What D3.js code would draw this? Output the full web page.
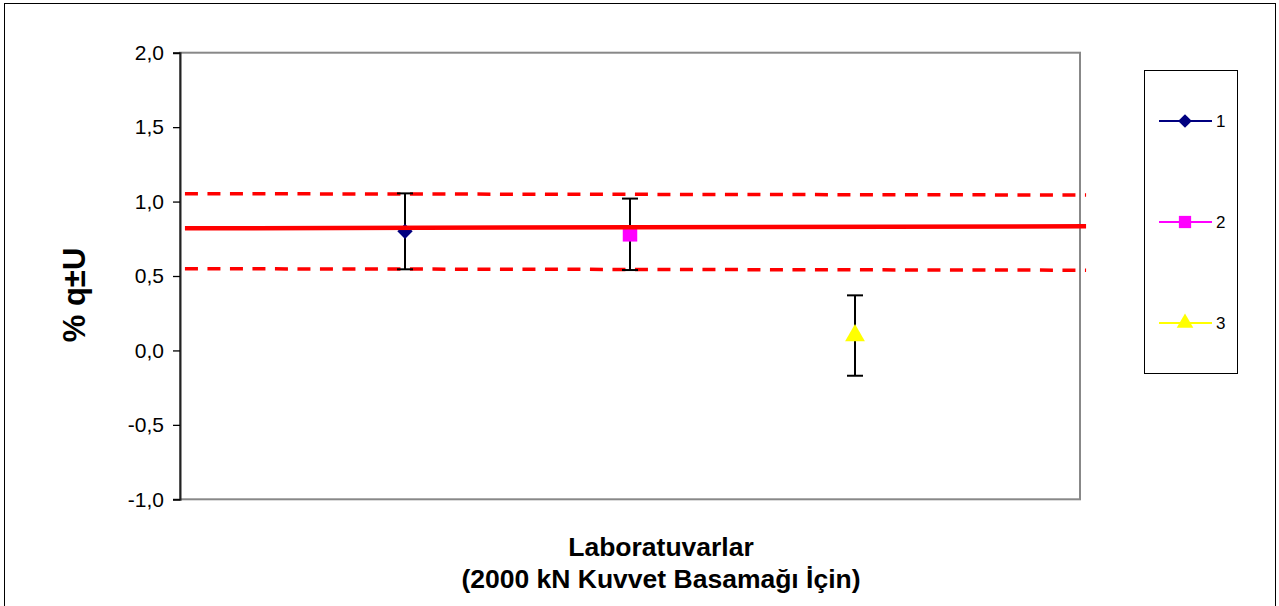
<!DOCTYPE html>
<html>
<head>
<meta charset="utf-8">
<script src="https://cdn.jsdelivr.net/npm/d3@7"></script>
<style>
  html, body { margin: 0; padding: 0; background: #fff; }
  svg { display: block; font-family: "Liberation Sans", Arial, sans-serif; }
</style>
</head>
<body>
<script>
// lab results (value and expanded uncertainty)
const labs = ["1", "2", "3"];
const labX = [1, 2, 3];
const values = [0.80, 0.78, 0.10];
const uncert = [0.255, 0.24, 0.27];
const colors = ["#000080", "#FF00FF", "#FFFF00"];
const markers = ["diamond", "square", "triangle"];

// reference value and its band (start / end of line)
const refX = [0.022, 4.027];
const refMean = [0.82, 0.834];
const refUpper = [1.053, 1.044];
const refLower = [0.549, 0.539];

const yTicks = [-1, -0.5, 0, 0.5, 1, 1.5, 2];

const width = 1279, height = 606;
const plot = {left: 180, right: 1080, top: 52.7, bottom: 499.3};

const svg = d3.select("body").append("svg")
    .attr("width", width)
    .attr("height", height);

// outer chart border
svg.append("rect")
    .attr("x", 4.5).attr("y", 3.5)
    .attr("width", 1271).attr("height", 610)
    .attr("fill", "none")
    .attr("stroke", "#000")
    .attr("stroke-width", 1);

const x = d3.scaleLinear().domain([0, 4]).range([plot.left, plot.right]);
const y = d3.scaleLinear().domain([-1, 2]).range([plot.bottom, plot.top]);

// plot area border (gray)
svg.append("rect")
    .attr("x", plot.left).attr("y", plot.top)
    .attr("width", plot.right - plot.left)
    .attr("height", plot.bottom - plot.top)
    .attr("fill", "none")
    .attr("stroke", "#888")
    .attr("stroke-width", 2);

// y axis
const fmt = d => d3.format(".1f")(d).replace(".", ",").replace("\u2212", "-");
const yAxis = svg.append("g")
    .attr("transform", `translate(${plot.left},0)`)
    .call(d3.axisLeft(y).tickValues(yTicks).tickSize(7).tickPadding(9).tickFormat(fmt));
yAxis.select(".domain").attr("stroke", "#222").attr("stroke-width", 2);
yAxis.selectAll(".tick line").attr("stroke", "#000").attr("stroke-width", 1.3);
yAxis.selectAll(".tick text")
    .attr("font-size", 21)
    .attr("fill", "#000")
    .attr("font-family", "Liberation Sans, Arial, sans-serif");

// reference band lines (dashed)
const line = d3.line().x(d => x(d[0])).y(d => y(d[1]));
[refUpper, refLower].forEach(arr => {
  svg.append("path")
      .datum(d3.zip(refX, arr))
      .attr("d", line)
      .attr("fill", "none")
      .attr("stroke", "#FF0000")
      .attr("stroke-width", 3.5)
      .attr("stroke-dasharray", "13,9.5");
});

// error bars
const eb = svg.append("g").selectAll("g")
    .data(labs.map((l, i) => ({x: labX[i], v: values[i], u: uncert[i]})))
    .join("g");
eb.append("line")
    .attr("x1", d => x(d.x)).attr("x2", d => x(d.x))
    .attr("y1", d => y(d.v + d.u)).attr("y2", d => y(d.v - d.u))
    .attr("stroke", "#000").attr("stroke-width", 2);
eb.selectAll("line.cap")
    .data(d => [d.v + d.u, d.v - d.u].map(v => ({x: d.x, v})))
    .join("line")
    .attr("class", "cap")
    .attr("x1", d => x(d.x) - 8).attr("x2", d => x(d.x) + 8)
    .attr("y1", d => y(d.v)).attr("y2", d => y(d.v))
    .attr("stroke", "#000").attr("stroke-width", 2);

// markers
const shapes = {
  diamond: d3.symbol().type(d3.symbolDiamond2).size(150),
  square: d3.symbol().type(d3.symbolSquare).size(210),
  triangle: d3.symbol().type(d3.symbolTriangle).size(170)
};
svg.append("g").selectAll("path")
    .data(labs.map((l, i) => i))
    .join("path")
    .attr("transform", i => `translate(${x(labX[i])},${y(values[i])})`)
    .attr("d", i => shapes[markers[i]]())
    .attr("fill", i => colors[i]);

// reference mean (solid)
svg.append("path")
    .datum(d3.zip(refX, refMean))
    .attr("d", line)
    .attr("fill", "none")
    .attr("stroke", "#FF0000")
    .attr("stroke-width", 4.5);

// y axis title
svg.append("text")
    .attr("transform", "translate(85,295) rotate(-90)")
    .attr("text-anchor", "middle")
    .attr("font-size", 31)
    .attr("font-weight", "bold")
    .text("% q±U");

// x axis title
const xt = svg.append("text")
    .attr("text-anchor", "middle")
    .attr("font-size", 26.5)
    .attr("font-weight", "bold");
xt.append("tspan").attr("x", 661).attr("y", 556).text("Laboratuvarlar");
xt.append("tspan").attr("x", 661).attr("y", 588).text("(2000 kN Kuvvet Basamağı İçin)");

// legend
const lg = svg.append("g");
lg.append("rect")
    .attr("x", 1144.5).attr("y", 70.5)
    .attr("width", 93).attr("height", 303)
    .attr("fill", "#fff")
    .attr("stroke", "#000")
    .attr("stroke-width", 1);
const legendY = d3.scalePoint().domain(labs).range([121, 323]);
const item = lg.selectAll("g.item")
    .data(labs.map((l, i) => i))
    .join("g")
    .attr("class", "item")
    .attr("transform", i => `translate(0,${legendY(labs[i])})`);
item.append("line")
    .attr("x1", 1159).attr("x2", 1212)
    .attr("stroke", i => colors[i])
    .attr("stroke-width", 2);
item.append("path")
    .attr("transform", "translate(1185,0)")
    .attr("d", i => shapes[markers[i]].size(markers[i] === "square" ? 150 : 120)())
    .attr("fill", i => colors[i]);
item.append("text")
    .attr("x", 1216).attr("y", 0)
    .attr("dy", "0.35em")
    .attr("font-size", 17)
    .text(i => labs[i]);
</script>
</body>
</html>
